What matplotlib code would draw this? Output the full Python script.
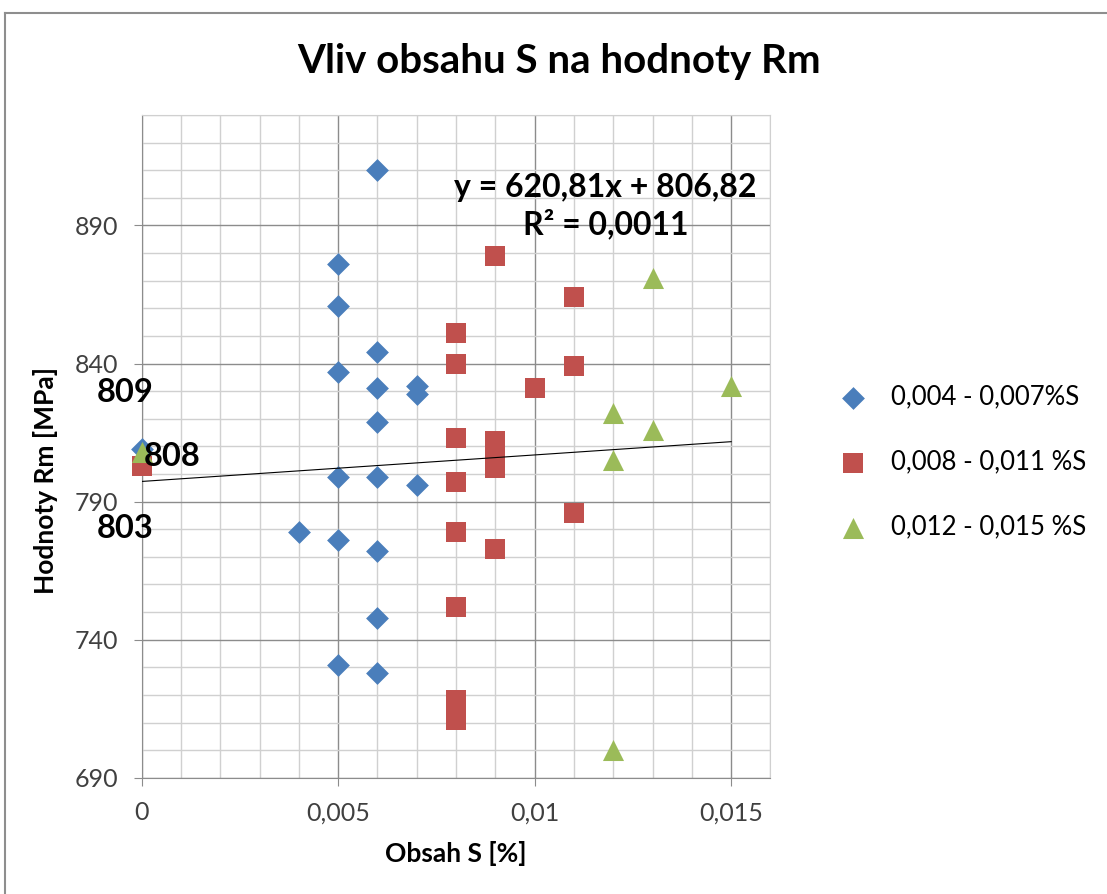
import matplotlib.pyplot as plt
from matplotlib.lines import Line2D
from matplotlib.ticker import FixedLocator, MultipleLocator, FuncFormatter

plt.rcParams['font.family'] = ['Lato', 'DejaVu Sans']

# data
blue_x = [0, 0.006, 0.005, 0.005, 0.006, 0.005, 0.006, 0.007, 0.007, 0.006,
          0.005, 0.006, 0.007, 0.004, 0.005, 0.006, 0.006, 0.005, 0.006]
blue_y = [809, 910, 876, 861, 844, 837, 831, 832, 829, 819,
          799, 799, 796, 779, 776, 772, 748, 731, 728]

red_x = [0, 0.009, 0.011, 0.008, 0.008, 0.011, 0.010, 0.008, 0.009, 0.009,
         0.009, 0.008, 0.011, 0.008, 0.009, 0.008, 0.008, 0.008]
red_y = [803, 879, 864, 851, 840, 839, 831, 813, 812, 807,
         802, 797, 786, 779, 773, 752, 718, 711]

green_x = [0, 0.013, 0.015, 0.012, 0.013, 0.012, 0.012]
green_y = [808, 871, 832, 822, 816, 805, 700]

trend_x = [0, 0.015]
trend_y = [797.3, 811.7]

y_ticks = [690, 740, 790, 840, 890]
x_ticks = [0, 0.005, 0.01, 0.015]
x_ticklabels = ["0", "0,005", "0,01", "0,015"]

labels = ["0,004 - 0,007%S", "0,008 - 0,011 %S", "0,012 - 0,015 %S"]
point_labels = ["809", "808", "803"]

fig = plt.figure(figsize=(11.07, 8.94), dpi=100)
ax = fig.add_axes([0.128, 0.130, 0.568, 0.7414])

ax.scatter(blue_x, blue_y, marker="D", s=135, color="#4A7EBB", label=labels[0],
           zorder=3, linewidths=0, clip_on=False)
ax.scatter(red_x, red_y, marker="s", s=205, color="#C0504D", label=labels[1],
           zorder=3, linewidths=0, clip_on=False)
ax.scatter(green_x, green_y, marker="^", s=230, color="#9BBB59", label=labels[2],
           zorder=3, linewidths=0, clip_on=False)
ax.plot(trend_x, trend_y, color="black", lw=0.8, zorder=4)

# data labels at x = 0
ax.annotate(point_labels[0], (blue_x[0], blue_y[0]), xytext=(-12, 41), textcoords="offset points",
            ha="center", va="center", fontsize=23.5, fontweight="bold", zorder=5,
            annotation_clip=False)
ax.annotate(point_labels[1], (green_x[0], green_y[0]), xytext=(22, -3), textcoords="offset points",
            ha="center", va="center", fontsize=23.5, fontweight="bold", zorder=5,
            annotation_clip=False)
ax.annotate(point_labels[2], (red_x[0], red_y[0]), xytext=(-12, -45), textcoords="offset points",
            ha="center", va="center", fontsize=23.5, fontweight="bold", zorder=5,
            annotation_clip=False)

ax.text(0.0118, 897, "y = 620,81x + 806,82\nR² = 0,0011", ha="center", va="center",
        fontsize=23, fontweight="bold", linespacing=1.25, zorder=5)

ax.set_xlim(0, 0.016)
ax.set_ylim(690, 930)
ax.xaxis.set_major_locator(FixedLocator(x_ticks))
ax.xaxis.set_minor_locator(MultipleLocator(0.001))
ax.yaxis.set_major_locator(FixedLocator(y_ticks))
ax.yaxis.set_minor_locator(MultipleLocator(10))
ax.set_xticklabels(x_ticklabels)
ax.yaxis.set_major_formatter(FuncFormatter(lambda v, p: "%d" % v))

ax.grid(which="major", color="#8C8C8C", lw=1)
ax.grid(which="minor", color="#D0D0D0", lw=1)
ax.set_axisbelow(True)
ax.tick_params(which="major", direction="out", length=6, color="#8C8C8C",
               labelsize=18, labelcolor="#404040")
ax.tick_params(axis="x", pad=11)
ax.tick_params(axis="y", pad=11)
ax.tick_params(which="minor", length=0)
for s in ["left", "bottom"]:
    ax.spines[s].set_color("#8C8C8C")
for s in ["top", "right"]:
    ax.spines[s].set_color("#D0D0D0")

ax.set_xlabel("Obsah S [%]", fontsize=19, fontweight="bold", labelpad=12)
fig.text(0.041, 1 - 480 / 894, "Hodnoty Rm [MPa]", rotation=90, ha="center", va="center",
         fontsize=19, fontweight="bold")
fig.text(0.505, 1 - 62 / 894, "Vliv obsahu S na hodnoty Rm", ha="center", va="center",
         fontsize=29, fontweight="bold")

ax.legend(loc="center left", bbox_to_anchor=(0.736, 1 - 462 / 894), bbox_transform=fig.transFigure,
          frameon=False, fontsize=18.5, labelspacing=1.55, handletextpad=0.45, borderpad=0)

# chart frame (clipped by image edge)
fig.add_artist(Line2D([5 / 1107, 5 / 1107], [0, 1 - 13 / 894], color="#8E8E8E", lw=1.5))
fig.add_artist(Line2D([5 / 1107, 1], [1 - 13 / 894, 1 - 13 / 894], color="#8E8E8E", lw=1.5))

fig.savefig("out.png", dpi=100)
